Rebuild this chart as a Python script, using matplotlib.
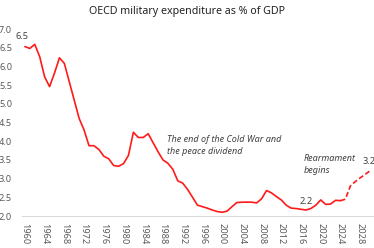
import matplotlib
matplotlib.use("Agg")
import matplotlib.pyplot as plt

plt.rcParams['font.family'] = ['Noto Sans', 'DejaVu Sans']

# OECD military expenditure, % of GDP
years = list(range(1960, 2025))
spend = [6.53, 6.48, 6.59, 6.26, 5.72, 5.46, 5.82, 6.23, 6.08, 5.59,
         5.10, 4.61, 4.30, 3.88, 3.88, 3.78, 3.60, 3.53, 3.35, 3.33,
         3.40, 3.62, 4.24, 4.10, 4.10, 4.20, 3.96, 3.72, 3.50, 3.41,
         3.25, 2.94, 2.88, 2.71, 2.50, 2.29, 2.25, 2.21, 2.16, 2.12,
         2.10, 2.13, 2.25, 2.36, 2.37, 2.37, 2.37, 2.35, 2.46, 2.68,
         2.62, 2.52, 2.43, 2.29, 2.21, 2.20, 2.18, 2.16, 2.20, 2.29,
         2.43, 2.31, 2.32, 2.42, 2.41]

# projection
proj_years = [2024, 2025, 2026, 2027, 2028, 2029, 2030]
proj_spend = [2.41, 2.45, 2.80, 2.92, 3.02, 3.11, 3.21]

tick_years = list(range(1960, 2029, 4))
y_ticks = [2.0, 2.5, 3.0, 3.5, 4.0, 4.5, 5.0, 5.5, 6.0, 6.5, 7.0]

red = '#ff1a1a'
grey = '#595959'

fig = plt.figure(figsize=(3.74, 2.48), dpi=100)
ax = fig.add_axes([0.060, 0.129, 0.936, 0.754])

ax.plot(years, spend, color=red, lw=1.2, solid_capstyle='round')
ax.plot(proj_years, proj_spend, color=red, lw=1.2, linestyle=(0, (3, 1.6)))

ax.set_xlim(1959.5, 2030.5)
ax.set_ylim(2.0, 7.0)
ax.set_xticks(tick_years)
ax.set_xticklabels([str(y) for y in tick_years], rotation=270, fontsize=6.6, color=grey)
ax.set_yticks(y_ticks)
ax.set_yticklabels([f'{v:.1f}' for v in y_ticks], fontsize=6.6, color=grey)
ax.tick_params(axis='x', length=0, pad=5)
ax.tick_params(axis='y', length=0, pad=7.5)

for s in ['top', 'right', 'left']:
    ax.spines[s].set_visible(False)
ax.spines['bottom'].set_color('#d9d9d9')
ax.spines['bottom'].set_linewidth(0.75)

fig.text(0.5, 0.952, 'OECD military expenditure as % of GDP', ha='center', va='center',
         fontsize=7.7, color='#222222')

# value labels
ax.annotate('6.5', (years[0], spend[0]), xytext=(-2, 7), textcoords='offset points',
            ha='center', va='center', fontsize=6.6, color='#404040')
ax.annotate('2.2', (2017, spend[years.index(2017)]), xytext=(0, 6), textcoords='offset points',
            ha='center', va='center', fontsize=6.6, color='#404040')
ax.annotate('3.2', (proj_years[-1], proj_spend[-1]), xytext=(-1, 6.5), textcoords='offset points',
            ha='center', va='center', fontsize=6.6, color='#404040')

ax.text(1988.9, 3.89, 'The end of the Cold War and\nthe peace dividend', fontsize=6.5,
        style='italic', color='#404040', va='center', ha='left', linespacing=1.45)
ax.text(2016.6, 3.38, 'Rearmament\nbegins', fontsize=6.5,
        style='italic', color='#404040', va='center', ha='left', linespacing=1.45)

fig.savefig('out.png', dpi=100)
